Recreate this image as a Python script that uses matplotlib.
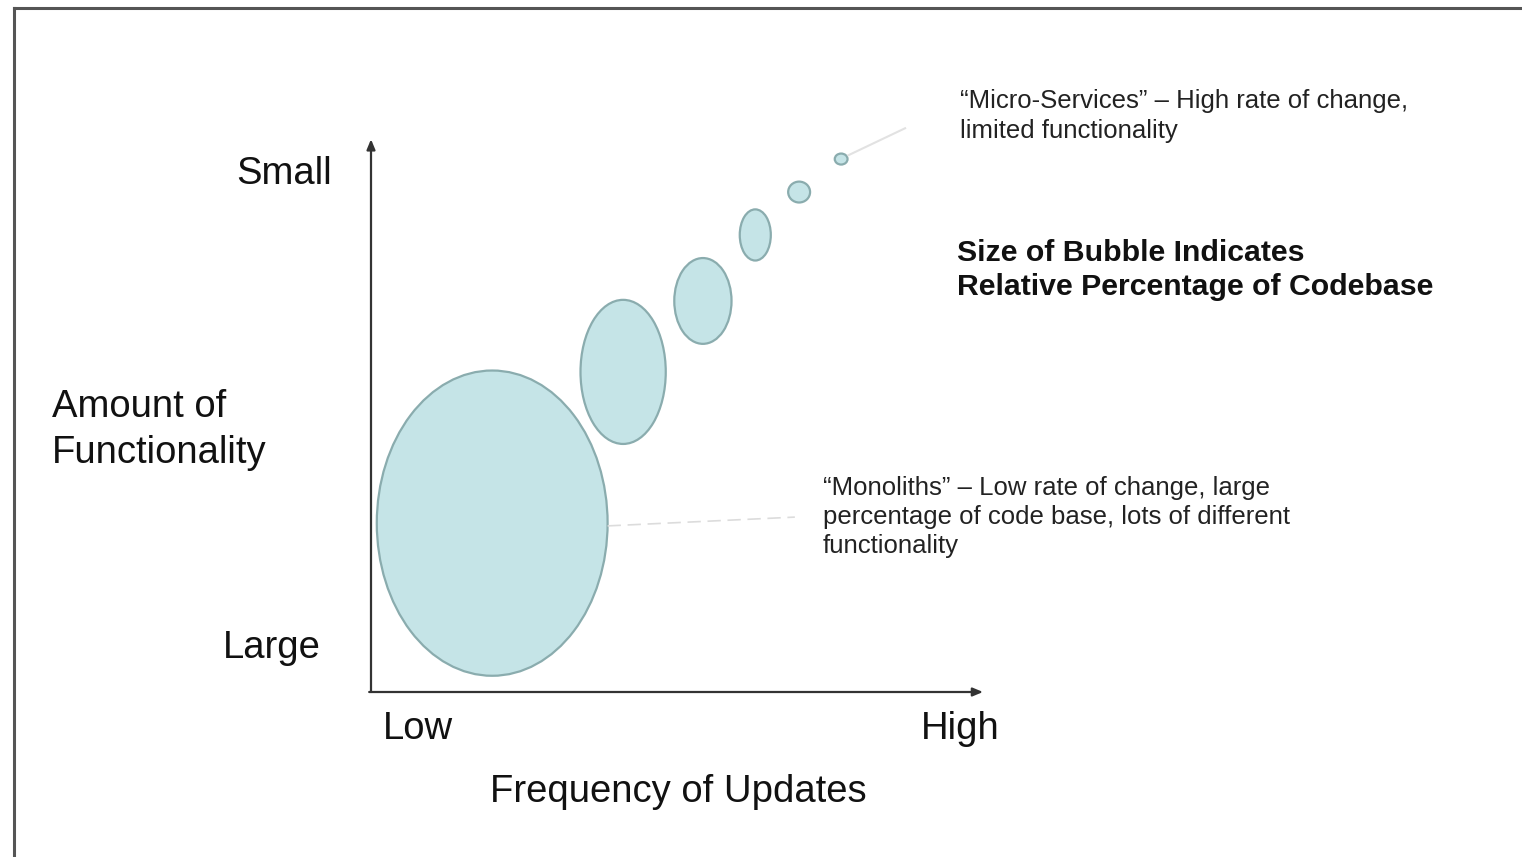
import matplotlib
matplotlib.use('Agg')
import matplotlib.pyplot as plt
from matplotlib.patches import Ellipse

plt.rcParams['font.family'] = ['Liberation Sans', 'DejaVu Sans']

# bubble data (x = frequency of updates, y = smallness of functionality, 0..10)
freq = [1.99, 4.14, 5.45, 6.31, 7.03, 7.72]
func = [3.07, 5.82, 7.11, 8.31, 9.09, 9.69]
bubble_w = [3.79, 1.40, 0.94, 0.51, 0.36, 0.21]
bubble_h = [5.55, 2.62, 1.56, 0.93, 0.38, 0.20]

y_labels = ["Large", "Small"]
x_labels = ["Low", "High"]
x_title = "Frequency of Updates"
y_title = "Amount of\nFunctionality"
micro_note = "\u201cMicro-Services\u201d \u2013 High rate of change,\nlimited functionality"
mono_note = "\u201cMonoliths\u201d \u2013 Low rate of change, large\npercentage of code base, lots of different\nfunctionality"
size_note = "Size of Bubble Indicates\nRelative Percentage of Codebase"

W, H = 1522, 857
fig = plt.figure(figsize=(W / 100, H / 100), dpi=100)
fig.patch.set_facecolor('white')


def fx(px):
    return px / W


def fy(py):
    return 1 - py / H


# frame lines (top and left)
fig.add_artist(plt.Line2D([fx(14), 1.0], [fy(8), fy(8)], color='#555555', lw=2.2))
fig.add_artist(plt.Line2D([fx(14), fx(14)], [fy(8), 0.0], color='#555555', lw=2.2))

ax = fig.add_axes([fx(371), fy(692), 609 / W, 550 / H])
ax.set_xlim(0, 10)
ax.set_ylim(0, 10)
ax.axis('off')

# axes arrows
arrow_kw = dict(arrowstyle='-|>,head_length=0.6,head_width=0.25', color='#333333', lw=1.6,
                shrinkA=0, shrinkB=0)
ax.annotate('', xy=(0, 10.05), xytext=(0, 0), arrowprops=arrow_kw, annotation_clip=False)
ax.annotate('', xy=(10.05, 0), xytext=(-0.03, 0), arrowprops=arrow_kw, annotation_clip=False)

for x, y, w, h in zip(freq, func, bubble_w, bubble_h):
    ax.add_patch(Ellipse((x, y), w, h, facecolor='#c5e4e7', edgecolor='#8aacae',
                         lw=1.6, clip_on=False))

# faint leader lines
ax.plot([freq[0] + bubble_w[0] / 2, 6.96], [3.02, 3.18], color='#dcdcdc', lw=1.2,
        ls=(0, (8, 4)), clip_on=False)
ax.plot([freq[5] + 0.12, 8.77], [9.76, 10.25], color='#e2e2e2', lw=1.5, clip_on=False)

big = 27.5
fig.text(fx(332), fy(174), y_labels[1], fontsize=big, ha='right', va='center', color='#111111')
fig.text(fx(321), fy(648), y_labels[0], fontsize=big, ha='right', va='center', color='#111111')
fig.text(fx(52), fy(430), y_title, fontsize=big, ha='left', va='center', color='#111111',
         linespacing=1.34)
fig.text(fx(383), fy(729), x_labels[0], fontsize=big, ha='left', va='center', color='#111111')
fig.text(fx(1000), fy(729), x_labels[1], fontsize=big, ha='right', va='center', color='#111111')
fig.text(fx(678), fy(792), x_title, fontsize=big, ha='center', va='center', color='#111111')

fig.text(fx(960), fy(116), micro_note, fontsize=18.5, ha='left', va='center', color='#222222',
         linespacing=1.32)
fig.text(fx(823), fy(517), mono_note, fontsize=18.5, ha='left', va='center', color='#222222',
         linespacing=1.28)
fig.text(fx(957), fy(270), size_note, fontsize=21.8, ha='left', va='center', color='#111111',
         fontweight='bold', linespacing=1.29)

fig.savefig('out.png', dpi=100)
